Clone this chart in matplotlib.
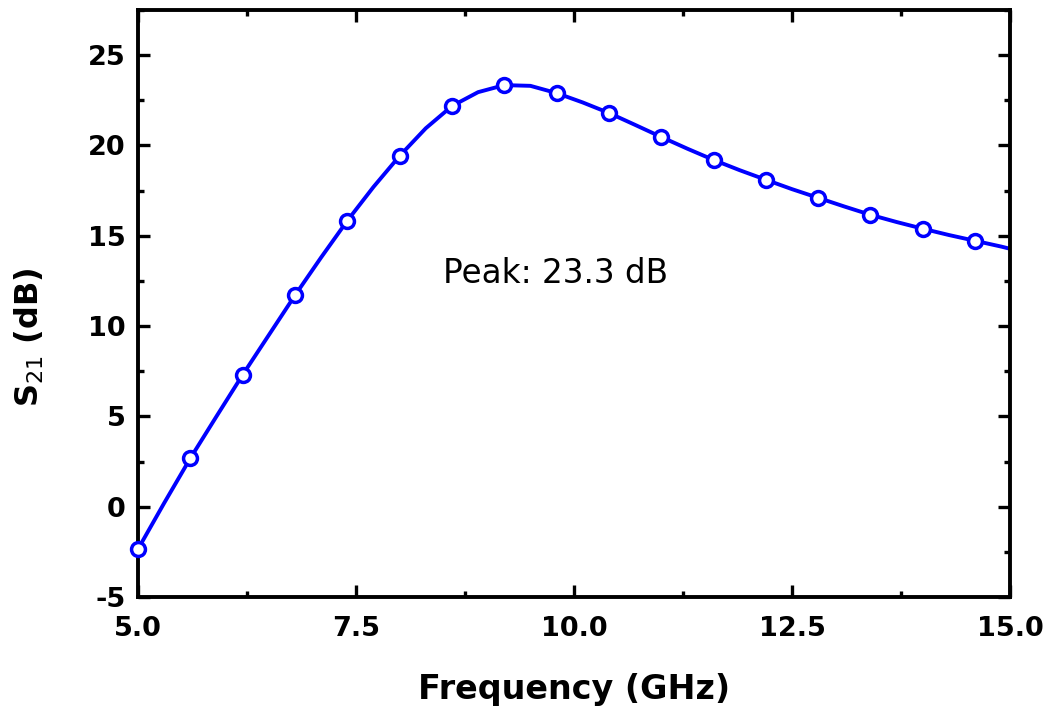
import matplotlib
matplotlib.use("Agg")
import matplotlib.pyplot as plt
from matplotlib.ticker import MultipleLocator, FormatStrFormatter

plt.rcParams['font.family'] = ['DejaVu Sans']
plt.rcParams['mathtext.fontset'] = 'dejavusans'

# measured points (markers)
freq = [5.0, 5.6, 6.2, 6.8, 7.4, 8.0, 8.6, 9.2, 9.8, 10.4, 11.0, 11.6, 12.2, 12.8, 13.4, 14.0, 14.6]
s21 = [-2.35, 2.68, 7.3, 11.7, 15.83, 19.42, 22.18, 23.34, 22.9, 21.8, 20.47, 19.2, 18.1, 17.1, 16.16, 15.39, 14.72]

# smooth curve
line_freq = [5.0, 5.3, 5.6, 5.9, 6.2, 6.5, 6.8, 7.1, 7.4, 7.7, 8.0, 8.3, 8.6, 8.9, 9.2, 9.5,
             9.8, 10.1, 10.4, 10.7, 11.0, 11.3, 11.6, 11.9, 12.2, 12.5, 12.8, 13.1, 13.4,
             13.7, 14.0, 14.3, 14.6, 14.9, 15.0]
line_s21 = [-2.35, 0.2, 2.68, 5.0, 7.3, 9.5, 11.7, 13.8, 15.83, 17.7, 19.42, 20.95, 22.18, 22.95,
            23.34, 23.3, 22.9, 22.38, 21.8, 21.14, 20.47, 19.82, 19.2, 18.63, 18.1, 17.58, 17.1,
            16.62, 16.16, 15.76, 15.39, 15.04, 14.72, 14.4, 14.28]

fig = plt.figure(figsize=(10.51, 7.13), dpi=100)
ax = fig.add_axes([0.1313, 0.1627, 0.8297, 0.8233])

ax.plot(line_freq, line_s21, color='#0000ff', linewidth=2.8, zorder=2)
ax.plot(freq, s21, linestyle='none', marker='o', markersize=10, markerfacecolor='white',
        markeredgecolor='#0000ff', markeredgewidth=2.5, zorder=3, clip_on=False)

ax.set_xlim(5, 15)
ax.set_ylim(-5, 27.5)
ax.xaxis.set_major_locator(MultipleLocator(2.5))
ax.xaxis.set_minor_locator(MultipleLocator(1.25))
ax.yaxis.set_major_locator(MultipleLocator(5))
ax.yaxis.set_minor_locator(MultipleLocator(2.5))
ax.xaxis.set_major_formatter(FormatStrFormatter('%.1f'))
ax.yaxis.set_major_formatter(FormatStrFormatter('%d'))

for s in ax.spines.values():
    s.set_linewidth(2.8)
ax.tick_params(which='both', direction='in', top=True, right=True, width=2.4)
ax.tick_params(which='major', length=8.5, labelsize=19.5)
ax.tick_params(which='minor', length=4.5)
ax.tick_params(axis='x', which='major', pad=14)
ax.tick_params(axis='y', which='major', pad=9)
for lab in ax.get_xticklabels() + ax.get_yticklabels():
    lab.set_fontweight('bold')

ax.set_xlabel('Frequency (GHz)', fontsize=24, fontweight='bold', labelpad=22)
ax.set_ylabel('S$_{\\mathrm{21}}$ (dB)', fontsize=23, fontweight='bold')
ax.yaxis.set_label_coords(-0.106, 0.443)

ax.text(9.79, 12.4, 'Peak: 23.3 dB', fontsize=23.5, ha='center', va='baseline')

fig.savefig('out.png', dpi=100)
